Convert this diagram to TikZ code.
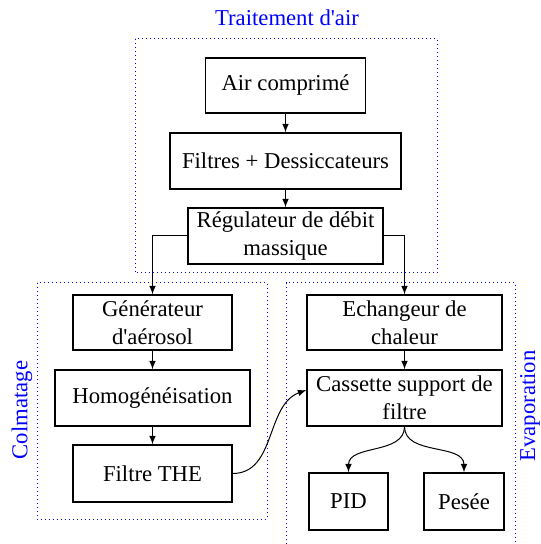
\documentclass[tikz,border=0pt]{standalone}
\usepackage{fontspec}
\setmainfont{Liberation Serif}[Ligatures=TeXOff]
\usepackage{tikz}

\tikzset{
  bloc/.style={draw, line width=0.55pt, inner sep=0pt, align=center},
  groupe/.style={draw=blue, line width=0.5pt, dash pattern=on 0.6pt off 1.4pt},
  titre/.style={text=blue}
}

\begin{document}
\begin{tikzpicture}[x=0.5pt, y=-0.5pt, >=latex, line width=0.5pt, font=\fontsize{11.35}{14}\selectfont]
    \useasboundingbox (0,0) rectangle (540,544);
    \draw[groupe] (135,39) rectangle (437,273);
    \draw[groupe] (37,283) rectangle (267,519);
    \draw[groupe] (286,544) -- (286,283) -- (515,283) -- (515,544);
    \node[titre] (t1) at (287,18) {Traitement d'air};
    \node[titre, rotate=90] (t2) at (22,410) {Colmatage};
    \node[titre, rotate=90] (t3) at (530,406) {Evaporation};
    \node[bloc, minimum width=80pt, minimum height=27.5pt] (a) at (285.5,85.5) {Air comprimé};
    \node[bloc, minimum width=115.5pt, minimum height=28pt] (b) at (285.5,161) {Filtres + Dessiccateurs};
    \node[bloc, minimum width=97.5pt, minimum height=28pt] (c) at (285.5,236) {Régulateur de débit\\massique};
    \node[bloc, minimum width=79.5pt, minimum height=27.5pt] (d) at (152.5,322.5) {Générateur\\d'aérosol};
    \node[bloc, minimum width=97.5pt, minimum height=28pt] (e) at (152.5,398) {Homogénéisation};
    \node[bloc, minimum width=79.5pt, minimum height=28.5pt] (f) at (152.5,473.5) {Filtre THE};
    \node[bloc, minimum width=97.5pt, minimum height=27.5pt] (g) at (404.5,322.5) {Echangeur de\\chaleur};
    \node[bloc, minimum width=97.5pt, minimum height=28pt] (h) at (404.5,398) {Cassette support de\\filtre};
    \node[bloc, minimum width=39.5pt, minimum height=28.5pt] (i) at (348.5,501.5) {PID};
    \node[bloc, minimum width=40pt, minimum height=28.5pt] (j) at (464,501.5) {Pesée};
    \draw [->] (a) -- (b);
    \draw [->] (b) -- (c);
    \draw [->] (c.west) -| (d.north);
    \draw [->] (c.east) -| (g.north);
    \draw [->] (d) -- (e);
    \draw [->] (e) -- (f);
    \draw [->] (g) -- (h);
    \draw [->] (f.east) to[out=0, in=200] ([yshift=4pt]h.west);
    \draw [->] (h.south) to[out=-90, in=90] (i.north);
    \draw [->] (h.south) to[out=-90, in=90] (j.north);
  \end{tikzpicture}
\end{document}
